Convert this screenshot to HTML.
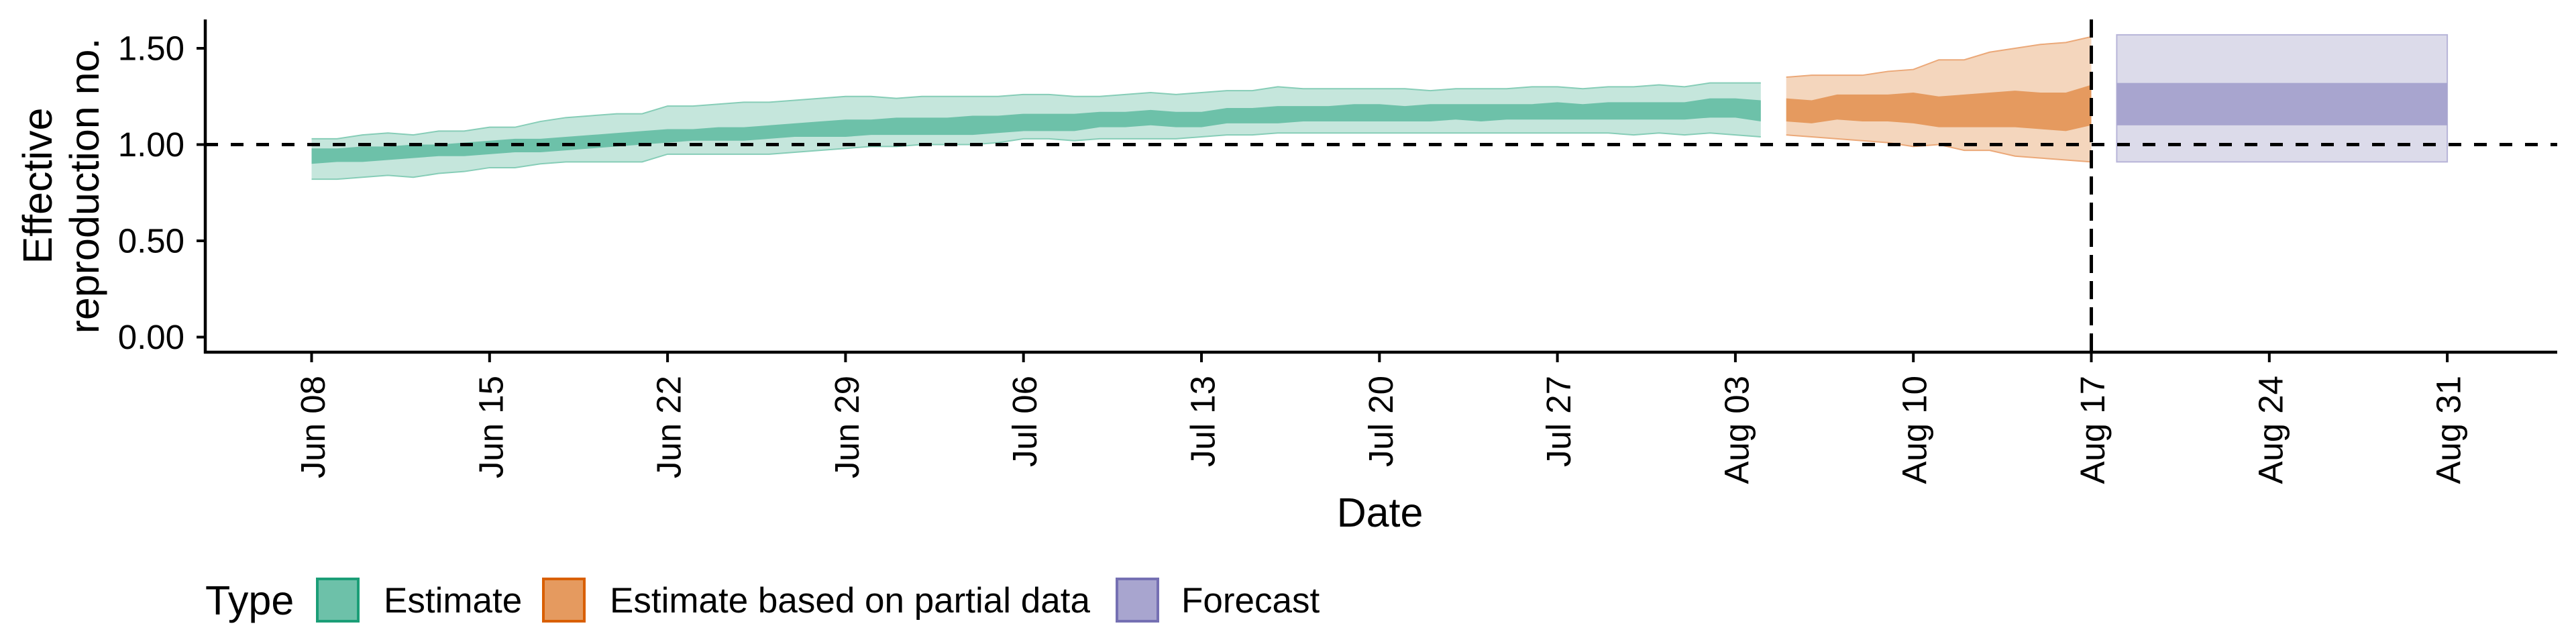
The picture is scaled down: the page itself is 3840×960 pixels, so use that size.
<!DOCTYPE html>
<html><head><meta charset="utf-8"><style>
html,body{margin:0;padding:0;background:#fff;}
svg{display:block;font-family:"Liberation Sans",sans-serif;}
</style></head><body>
<svg id="chart" width="3840" height="960" viewBox="0 0 3840 960" xmlns="http://www.w3.org/2000/svg">
<g id="plot"></g>
<g id="axes"></g>
<text x="0" y="0" transform="translate(77,277) rotate(-90)" text-anchor="middle" font-size="61">Effective</text>
<text x="0" y="0" transform="translate(147,277) rotate(-90)" text-anchor="middle" font-size="61">reproduction no.</text>
<text x="2057" y="785" text-anchor="middle" font-size="61">Date</text>
<g>
<text x="306" y="916" font-size="61">Type</text>
<rect x="473" y="863" width="61" height="63" fill="#6dc1a9" stroke="#1b9e77" stroke-width="4"/>
<text x="572" y="913" font-size="53">Estimate</text>
<rect x="810" y="863" width="61" height="63" fill="#e59a5f" stroke="#d95f02" stroke-width="4"/>
<text x="909" y="913" font-size="53">Estimate based on partial data</text>
<rect x="1665" y="863" width="61" height="63" fill="#a8a5cf" stroke="#7570b3" stroke-width="4"/>
<text x="1761" y="913" font-size="53">Forecast</text>
</g>
</svg>
<script>
const tickDays = [0,7,14,21,28,35,42,49,56,63,70,77,84];
const tickLabels = ["Jun 08","Jun 15","Jun 22","Jun 29","Jul 06","Jul 13","Jul 20","Jul 27","Aug 03","Aug 10","Aug 17","Aug 24","Aug 31"];
const yTicks = [0,0.5,1,1.5];
const yTickLabels = ["0.00","0.50","1.00","1.50"];
const estStart = 0;
const estOU = [1.03,1.03,1.05,1.06,1.05,1.07,1.07,1.09,1.09,1.12,1.14,1.15,1.16,1.16,1.20,1.20,1.21,1.22,1.22,1.23,1.24,1.25,1.25,1.24,1.25,1.25,1.25,1.25,1.26,1.26,1.25,1.25,1.26,1.27,1.26,1.27,1.28,1.28,1.30,1.29,1.29,1.29,1.29,1.29,1.28,1.29,1.29,1.29,1.30,1.30,1.29,1.30,1.30,1.31,1.30,1.32,1.32,1.32];
const estIU = [0.98,0.98,0.99,0.99,1.00,1.00,1.01,1.02,1.03,1.03,1.04,1.05,1.06,1.07,1.08,1.08,1.09,1.09,1.10,1.11,1.12,1.13,1.13,1.14,1.14,1.14,1.15,1.15,1.16,1.16,1.16,1.17,1.17,1.18,1.17,1.17,1.19,1.19,1.20,1.20,1.20,1.21,1.21,1.20,1.21,1.21,1.21,1.21,1.21,1.22,1.21,1.22,1.22,1.22,1.22,1.24,1.24,1.23];
const estIL = [0.90,0.91,0.91,0.92,0.93,0.94,0.94,0.95,0.96,0.96,0.97,0.98,0.99,1.00,1.01,1.02,1.02,1.02,1.03,1.04,1.04,1.04,1.05,1.05,1.05,1.05,1.05,1.06,1.07,1.07,1.07,1.09,1.09,1.10,1.09,1.09,1.11,1.11,1.11,1.12,1.12,1.12,1.12,1.12,1.12,1.13,1.12,1.13,1.13,1.13,1.13,1.13,1.13,1.13,1.13,1.14,1.14,1.12];
const estOL = [0.82,0.82,0.83,0.84,0.83,0.85,0.86,0.88,0.88,0.90,0.91,0.91,0.91,0.91,0.95,0.95,0.95,0.95,0.95,0.96,0.97,0.98,0.99,0.99,1.00,1.00,1.00,1.01,1.03,1.03,1.02,1.03,1.03,1.03,1.03,1.04,1.05,1.05,1.06,1.06,1.06,1.06,1.06,1.06,1.06,1.06,1.06,1.06,1.06,1.06,1.06,1.06,1.05,1.06,1.05,1.06,1.05,1.04];
const partStart = 58;
const partOU = [1.35,1.36,1.36,1.36,1.38,1.39,1.44,1.44,1.48,1.50,1.52,1.53,1.56];
const partIU = [1.24,1.23,1.26,1.26,1.26,1.27,1.25,1.26,1.27,1.28,1.27,1.27,1.31];
const partIL = [1.12,1.11,1.13,1.12,1.12,1.11,1.09,1.09,1.09,1.09,1.08,1.07,1.10];
const partOL = [1.05,1.04,1.03,1.02,1.01,0.99,1.00,0.97,0.97,0.94,0.93,0.92,0.91];
const fcDays = [71,84];
const fcOU = [1.57];
const fcIU = [1.32];
const fcIL = [1.10];
const fcOL = [0.91];
const refValue = 1;
const dataDateDay = 70;

const NS = "http://www.w3.org/2000/svg";
const X0 = 464.5, DX = 37.9, Y0 = 502.5, DY = 287;
function xs(d){ return X0 + DX*d; }
function ys(v){ return Y0 - DY*v; }
const plot = document.getElementById('plot');
const axes = document.getElementById('axes');
function mk(tag, attrs, parent){
  const e = document.createElementNS(NS, tag);
  for (const k in attrs) e.setAttribute(k, attrs[k]);
  parent.appendChild(e); return e;
}
function band(start, up, lo, fill, stroke, name){
  const pts = [];
  for (let i=0;i<up.length;i++) pts.push(xs(start+i)+','+ys(up[i]));
  for (let i=lo.length-1;i>=0;i--) pts.push(xs(start+i)+','+ys(lo[i]));
  const p = mk('polygon', {points: pts.join(' '), fill: fill}, plot);
  
  
  if (stroke){
    const a = mk('polyline', {points: up.map((v,i)=>xs(start+i)+','+ys(v)).join(' '), fill:'none', stroke: stroke, 'stroke-width':2}, plot);
    
    
    const b = mk('polyline', {points: lo.map((v,i)=>xs(start+i)+','+ys(v)).join(' '), fill:'none', stroke: stroke, 'stroke-width':2}, plot);
    
    
  }
}
band(estStart, estOU, estOL, '#c5e6dc', '#86cdb7', 'estimate-outer-band');
band(estStart, estIU, estIL, '#6dc1a9', null, 'estimate-inner-band');
band(partStart, partOU, partOL, '#f4d6bd', '#eba878', 'partial-outer-band');
band(partStart, partIU, partIL, '#e59a5f', null, 'partial-inner-band');
const fo = mk('rect', {x: xs(fcDays[0]), y: ys(fcOU[0]), width: xs(fcDays[1])-xs(fcDays[0]), height: ys(fcOL[0])-ys(fcOU[0]), fill:'#dcdbea', stroke:'#b7b4d8', 'stroke-width':2}, plot);


const fi = mk('rect', {x: xs(fcDays[0]), y: ys(fcIU[0]), width: xs(fcDays[1])-xs(fcDays[0]), height: ys(fcIL[0])-ys(fcIU[0]), fill:'#a8a5cf'}, plot);



const hl = mk('line', {x1:306, x2:3812, y1: ys(refValue), y2: ys(refValue), stroke:'#000', 'stroke-width':5, 'stroke-dasharray':'19 19'}, plot);


const vl = mk('line', {x1: xs(dataDateDay), x2: xs(dataDateDay), y1: 29, y2: 525, stroke:'#000', 'stroke-width':5, 'stroke-dasharray':'27 12'}, plot);



const ya = mk('line', {x1:306, x2:306, y1:29, y2:527, stroke:'#000', 'stroke-width':4.5}, axes);


const xa = mk('line', {x1:304, x2:3812, y1:525, y2:525, stroke:'#000', 'stroke-width':4.5}, axes);


yTicks.forEach((v,i)=>{
  const t = mk('line', {x1:293, x2:306, y1: ys(v), y2: ys(v), stroke:'#000', 'stroke-width':4}, axes);
  
  
  const l = mk('text', {x:275, y: ys(v), 'text-anchor':'end', 'dominant-baseline':'central', 'font-size':51}, axes);
  
  
  l.textContent = yTickLabels[i];
});
tickDays.forEach((d,i)=>{
  const t = mk('line', {x1: xs(d), x2: xs(d), y1:525, y2:540, stroke:'#000', 'stroke-width':4}, axes);
  
  
  const l = mk('text', {x:0, y:0, transform:'translate('+(xs(d)+2)+',560) rotate(-90)', 'text-anchor':'end', 'dominant-baseline':'central', 'font-size':51}, axes);
  
  
  l.textContent = tickLabels[i];
});
</script>
</body></html>
